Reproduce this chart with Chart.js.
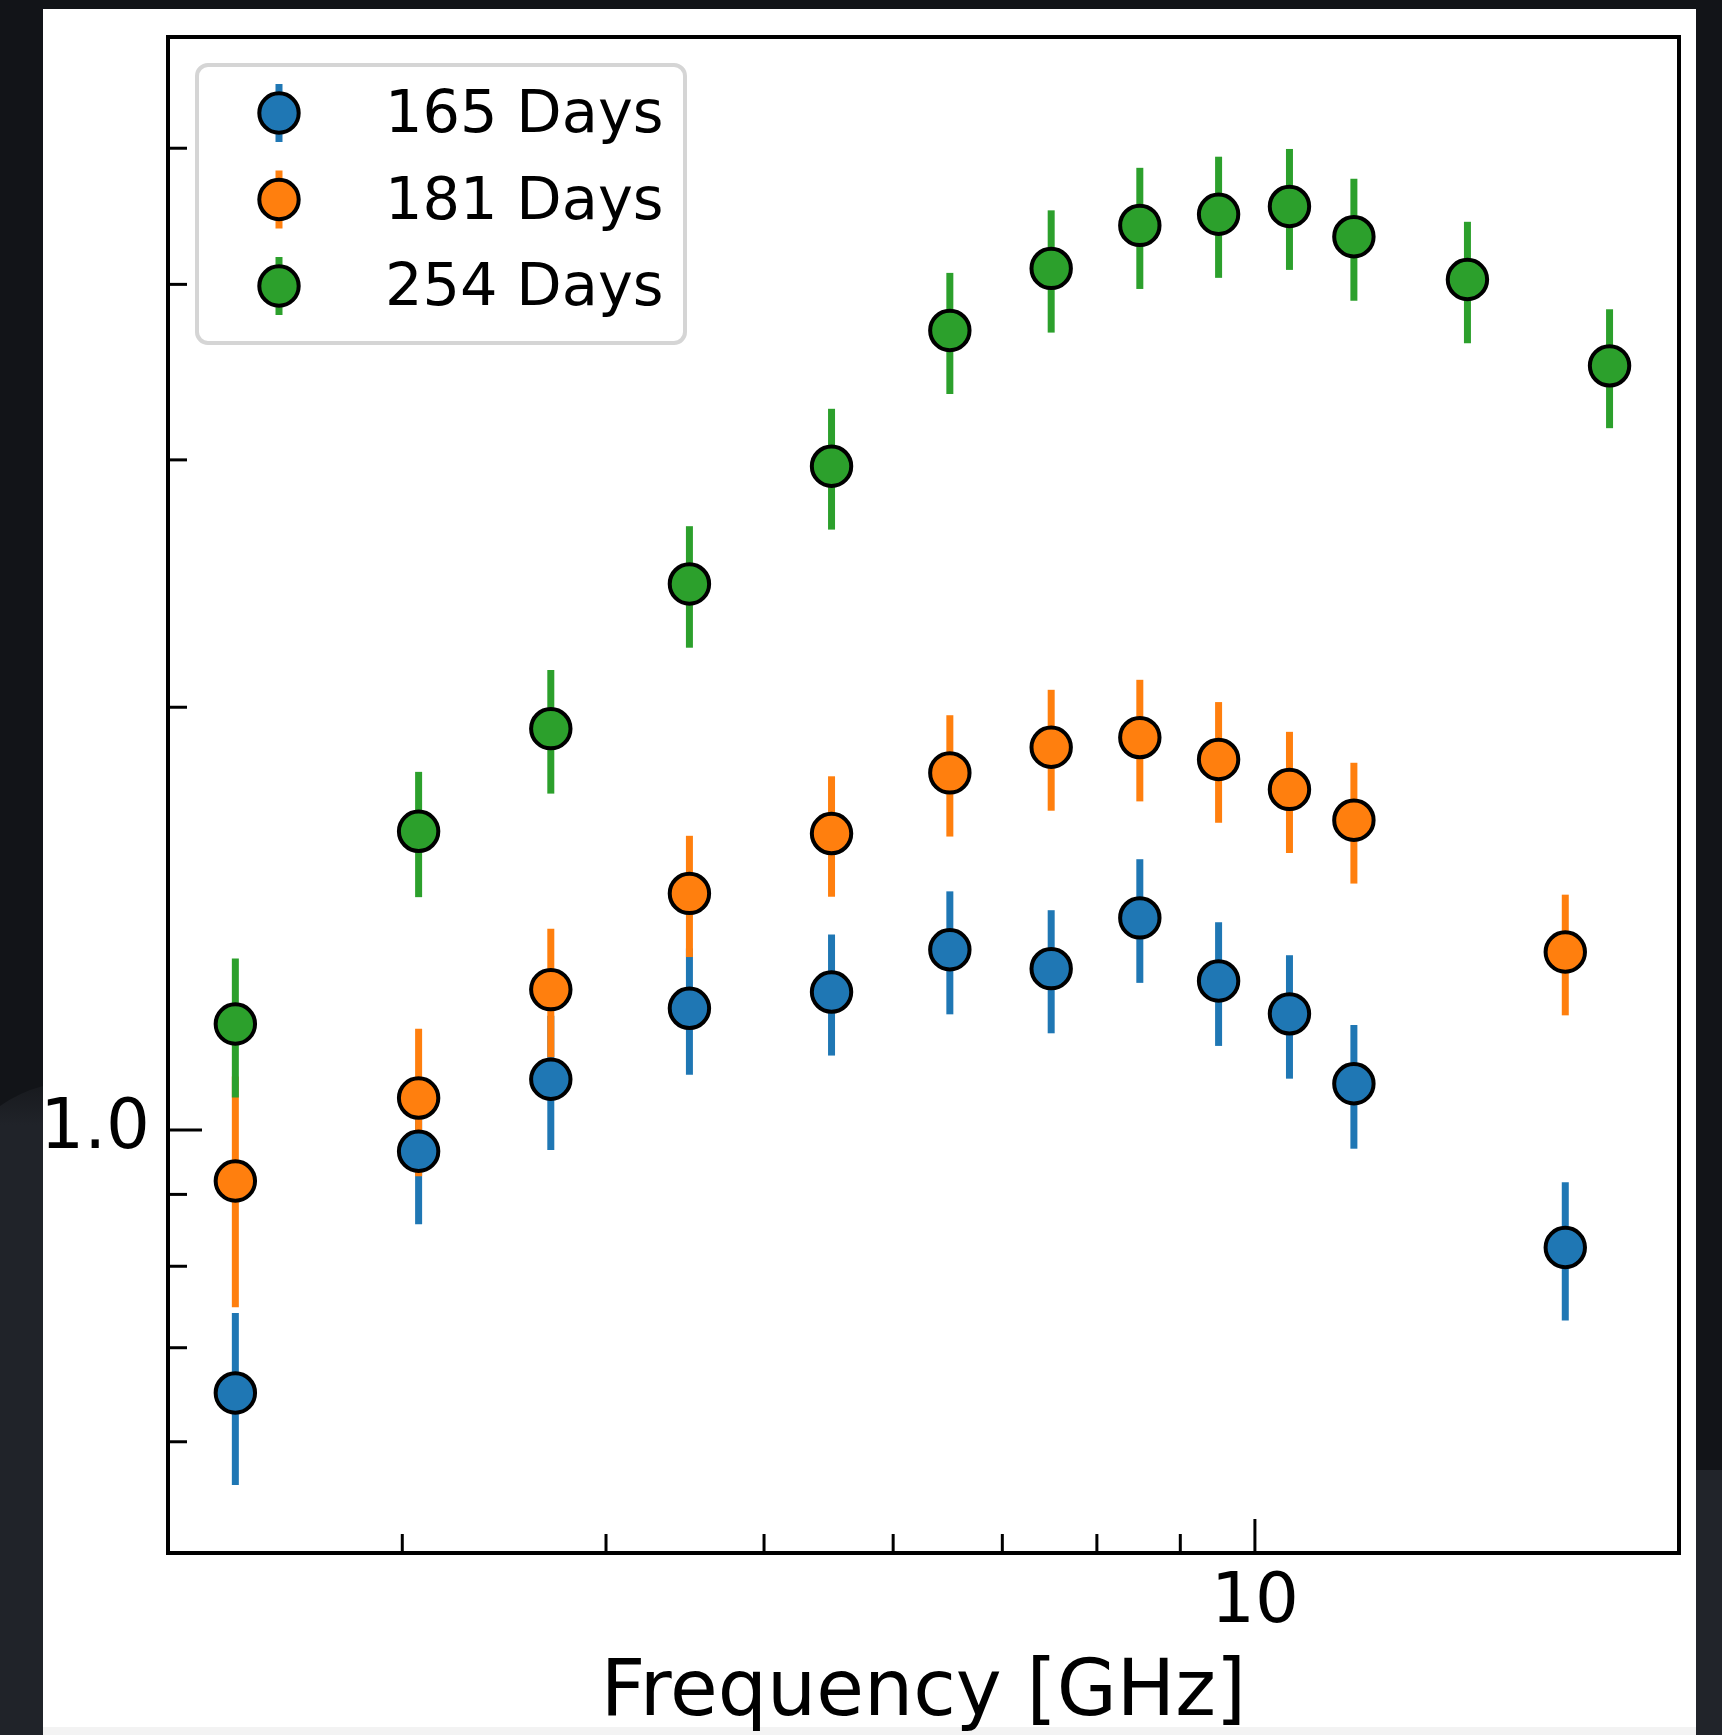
<!DOCTYPE html>
<html>
<head>
<meta charset="utf-8">
<title>Radio spectra</title>
<script src="https://cdn.jsdelivr.net/npm/chart.js@4.4.0/dist/chart.umd.min.js"></script>
<style>
  html, body { margin: 0; padding: 0; background: #121418; overflow: hidden; }
  canvas { display: block; }
</style>
</head>
<body>
<canvas id="spectrumChart" width="1722" height="1735"></canvas>
<script>
// frequencies in GHz, flux values and 1-sigma errors
const freqEarly = [2.37, 3.07, 3.70, 4.5, 5.5, 6.5, 7.5, 8.5, 9.5, 10.5, 11.5, 15.5];
const freqLate = [2.37, 3.07, 3.70, 4.5, 5.5, 6.5, 7.5, 8.5, 9.5, 10.5, 11.5, 13.5, 16.5];

const flux165 = [0.650, 0.966, 1.087, 1.221, 1.254, 1.344, 1.303, 1.416, 1.277, 1.210, 1.079, 0.825];
const err165 = [0.091, 0.109, 0.119, 0.126, 0.124, 0.135, 0.131, 0.143, 0.129, 0.122, 0.109, 0.093];

const flux181 = [0.920, 1.054, 1.259, 1.474, 1.626, 1.796, 1.873, 1.903, 1.836, 1.748, 1.662, 1.339];
const err181 = [0.172, 0.127, 0.132, 0.146, 0.160, 0.178, 0.185, 0.189, 0.181, 0.173, 0.164, 0.132];

const flux254 = [1.190, 1.632, 1.931, 2.448, 2.969, 3.709, 4.106, 4.406, 4.487, 4.545, 4.325, 4.032, 3.500];
const err254 = [0.135, 0.167, 0.195, 0.243, 0.293, 0.367, 0.410, 0.436, 0.444, 0.449, 0.431, 0.400, 0.340];

const seriesLabels = ['165 Days', '181 Days', '254 Days'];
const seriesColors = ['#1f77b4', '#ff7f0e', '#2ca02c'];

const xMajorTicks = [10];
const xMinorTicks = [3, 4, 5, 6, 7, 8, 9];
const yMajorTicks = [1];
const yMinorTicks = [0.6, 0.7, 0.8, 0.9, 2, 3, 4, 5];

const FONT = 'DejaVu Sans';

function points(xs, ys) {
    return xs.map((x, i) => ({ x: x, y: ys[i] }));
}

// dark slide frame behind the white figure
const backdrop = {
    id: 'backdrop',
    beforeDraw(chart) {
        const { ctx, width, height } = chart;
        ctx.save();
        ctx.fillStyle = '#121418';
        ctx.fillRect(0, 0, width, height);
        const shade = ctx.createLinearGradient(0, 1080, 0, 1125);
        shade.addColorStop(0, '#17191d');
        shade.addColorStop(1, '#202329');
        ctx.fillStyle = shade;
        ctx.beginPath();
        ctx.moveTo(0, 1106);
        ctx.quadraticCurveTo(20, 1092, 43, 1086);
        ctx.lineTo(43, height);
        ctx.lineTo(0, height);
        ctx.closePath();
        ctx.fill();
        ctx.fillStyle = '#21242a';
        ctx.fillRect(1696, 1470, width - 1696, height - 1470);
        ctx.fillStyle = '#ffffff';
        ctx.fillRect(43, 9, 1653, 1718);
        ctx.fillStyle = '#f3f3f3';
        ctx.fillRect(43, 1727, 1653, height - 1727);
        ctx.restore();
    }
};

// vertical error bars, drawn under all markers like matplotlib
const errorBars = {
    id: 'errorBars',
    beforeDatasetsDraw(chart) {
        const { ctx, chartArea: a, scales: { y } } = chart;
        ctx.save();
        ctx.beginPath();
        ctx.rect(a.left, a.top, a.right - a.left, a.bottom - a.top);
        ctx.clip();
        ctx.lineWidth = 7;
        ctx.lineCap = 'butt';
        chart.data.datasets.forEach((ds, i) => {
            const meta = chart.getDatasetMeta(i);
            ctx.strokeStyle = ds.backgroundColor;
            ds.data.forEach((p, j) => {
                const px = meta.data[j].x;
                ctx.beginPath();
                ctx.moveTo(px, y.getPixelForValue(p.y + ds.errors[j]));
                ctx.lineTo(px, y.getPixelForValue(p.y - ds.errors[j]));
                ctx.stroke();
            });
        });
        ctx.restore();
    }
};

// inward ticks, axes box and a matplotlib style legend
const frame = {
    id: 'frame',
    afterDraw(chart) {
        const { ctx, chartArea: a, scales: { x, y } } = chart;
        ctx.save();
        ctx.strokeStyle = '#000';
        ctx.lineWidth = 3;
        x.ticks.forEach(t => {
            const px = x.getPixelForValue(t.value);
            const len = xMajorTicks.includes(t.value) ? 34 : 19;
            ctx.beginPath();
            ctx.moveTo(px, a.bottom);
            ctx.lineTo(px, a.bottom - len);
            ctx.stroke();
        });
        y.ticks.forEach(t => {
            const py = y.getPixelForValue(t.value);
            const len = yMajorTicks.includes(t.value) ? 34 : 19;
            ctx.beginPath();
            ctx.moveTo(a.left, py);
            ctx.lineTo(a.left + len, py);
            ctx.stroke();
        });
        ctx.lineWidth = 4;
        ctx.strokeRect(a.left, a.top, a.right - a.left, a.bottom - a.top);

        // legend
        const bx = 197, by = 65, bw = 488, bh = 278, r = 11;
        ctx.beginPath();
        ctx.roundRect(bx, by, bw, bh, r);
        ctx.fillStyle = '#ffffff';
        ctx.fill();
        ctx.lineWidth = 4;
        ctx.strokeStyle = '#d5d5d5';
        ctx.stroke();

        ctx.font = '59px "' + FONT + '"';
        ctx.textBaseline = 'middle';
        ctx.textAlign = 'left';
        chart.data.datasets.forEach((ds, i) => {
            const cy = 113 + i * 86.5;
            ctx.strokeStyle = ds.backgroundColor;
            ctx.lineWidth = 7;
            ctx.beginPath();
            ctx.moveTo(279, cy - 29);
            ctx.lineTo(279, cy + 29);
            ctx.stroke();
            ctx.beginPath();
            ctx.arc(279, cy, 19.7, 0, Math.PI * 2);
            ctx.fillStyle = ds.backgroundColor;
            ctx.fill();
            ctx.lineWidth = 4;
            ctx.strokeStyle = '#000';
            ctx.stroke();
            ctx.fillStyle = '#000';
            ctx.fillText(ds.label, 385, cy + 4);
        });
        ctx.restore();
    }
};

function makeDataset(i, xs, ys, errs, order) {
    return {
        label: seriesLabels[i],
        data: points(xs, ys),
        errors: errs,
        backgroundColor: seriesColors[i],
        borderColor: '#000000',
        borderWidth: 4,
        pointRadius: 19.7,
        pointHoverRadius: 19.7,
        order: order
    };
}

document.addEventListener('DOMContentLoaded', function() {
    const ctx = document.getElementById('spectrumChart').getContext('2d');
    new Chart(ctx, {
        type: 'scatter',
        data: {
            datasets: [
                makeDataset(0, freqEarly, flux165, err165, 3),
                makeDataset(1, freqEarly, flux181, err181, 2),
                makeDataset(2, freqLate, flux254, err254, 1)
            ]
        },
        options: {
            responsive: false,
            animation: false,
            events: [],
            layout: { padding: { left: 0, top: 37, right: 43, bottom: 0 } },
            plugins: {
                legend: { display: false },
                tooltip: { enabled: false }
            },
            scales: {
                x: {
                    type: 'logarithmic',
                    position: 'bottom',
                    min: 2.155,
                    max: 18.2,
                    bounds: 'data',
                    grid: { display: false, drawTicks: false },
                    border: { display: false },
                    afterBuildTicks: axis => {
                        axis.ticks = [...xMinorTicks, ...xMajorTicks]
                            .sort((a, b) => a - b)
                            .map(v => ({ value: v }));
                    },
                    afterFit: axis => {
                        axis.height = 182;
                        axis.paddingLeft = 0;
                        axis.paddingRight = 0;
                    },
                    ticks: {
                        autoSkip: false,
                        maxRotation: 0,
                        padding: 10,
                        color: '#000',
                        font: { family: FONT, size: 69 },
                        callback: v => (xMajorTicks.includes(v) ? String(v) : '')
                    },
                    title: {
                        display: true,
                        text: 'Frequency [GHz]',
                        color: '#000',
                        font: { family: FONT, size: 77.6, lineHeight: 1.0 },
                        padding: { top: 0, bottom: 1 }
                    }
                },
                y: {
                    type: 'logarithmic',
                    position: 'left',
                    min: 0.5,
                    max: 6,
                    bounds: 'data',
                    grid: { display: false, drawTicks: false },
                    border: { display: false },
                    afterBuildTicks: axis => {
                        axis.ticks = [...yMinorTicks, ...yMajorTicks]
                            .sort((a, b) => a - b)
                            .map(v => ({ value: v }));
                    },
                    afterFit: axis => {
                        axis.width = 168;
                        axis.paddingTop = 0;
                        axis.paddingBottom = 0;
                    },
                    ticks: {
                        autoSkip: false,
                        padding: 18,
                        color: '#000',
                        font: { family: FONT, size: 69 },
                        callback: v => (yMajorTicks.includes(v) ? v.toFixed(1) : '')
                    }
                }
            }
        },
        plugins: [backdrop, errorBars, frame]
    });
});
</script>
</body>
</html>
